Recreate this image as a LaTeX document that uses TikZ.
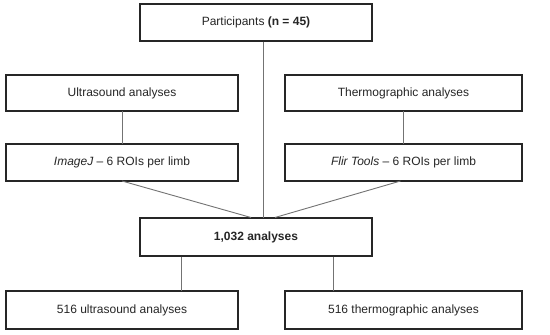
\documentclass[tikz,border=0pt]{standalone}
\usepackage{fontspec}
\setmainfont{Liberation Sans}
\begin{document}
\begin{tikzpicture}[x=1pt,y=-1pt,
  box/.style={draw=black!85, line width=1.1pt, minimum height=0pt, inner sep=0pt, text=black!85, font=\fontsize{12}{14}\selectfont},
  link/.style={draw=black!55, line width=0.9pt}]
\useasboundingbox (0,0) rectangle (550,335);
\fill[white] (0,0) rectangle (550,335);
\newcommand{\boxat}[6]{\draw[box] (#2,#3) rectangle (#4,#5); \node[box,draw=none] (#1) at ({(#2+#4)/2},{(#3+#5)/2}) {#6};
  \coordinate (#1-n) at ({(#2+#4)/2},#3); \coordinate (#1-s) at ({(#2+#4)/2},#5);}
\boxat{p}{140}{4}{372}{41}{Participants \textbf{(n = 45)}}
\boxat{us}{6}{75}{238}{111}{Ultrasound analyses}
\boxat{th}{285}{75}{522}{111}{Thermographic analyses}
\boxat{ij}{6}{144}{238}{181}{\textit{ImageJ} -- 6 ROIs per limb}
\boxat{fl}{285}{144}{522}{181}{\textit{Flir Tools} -- 6 ROIs per limb}
\boxat{an}{140}{218}{372}{256}{\textbf{1,032 analyses}}
\boxat{ua}{6}{291}{238}{329}{516 ultrasound analyses}
\boxat{ta}{285}{291}{522}{329}{516 thermographic analyses}
\coordinate (p-out) at (263,41.5);
\coordinate (an-in) at (263,217.5);
\coordinate (an-inl) at (251,217.5);
\coordinate (an-inr) at (275,217.5);
\coordinate (an-outl) at (181,256.5);
\coordinate (an-outr) at (333,256.5);
\draw[link] (p-out) -- (an-in);
\draw[link] (us-s) -- (ij-n);
\draw[link] (th-s) -- (fl-n);
\draw[link] (ij-s) -- (an-inl);
\draw[link] (fl-s) ++(-3,0) -- (an-inr);
\draw[link] (an-outl) -- (an-outl |- ua-n);
\draw[link] (an-outr) -- (an-outr |- ta-n);
\end{tikzpicture}
\end{document}
